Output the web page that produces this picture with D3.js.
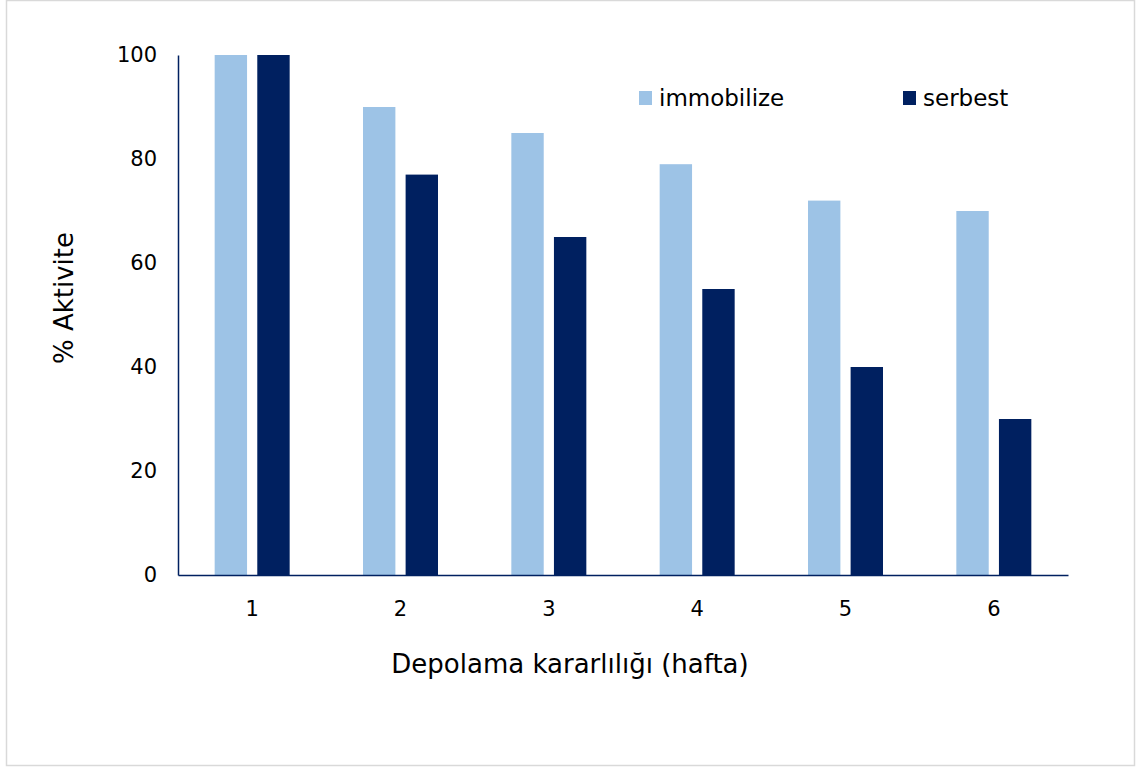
<!DOCTYPE html>
<html>
<head>
<meta charset="utf-8">
<script src="https://cdn.jsdelivr.net/npm/d3@7"></script>
<style>
  body { margin: 0; background: #fff; }
  text { font-family: "DejaVu Sans", Verdana, sans-serif; fill: #000; }
</style>
</head>
<body>
<div id="chart"></div>
<script>
// data
var weeks = ['1', '2', '3', '4', '5', '6']
var immobilize = [100, 90, 85, 79, 72, 70]
var serbest = [100, 77, 65, 55, 40, 30]
var yTicks = [0, 20, 40, 60, 80, 100]
var seriesNames = ['immobilize', 'serbest']

var colors = { immobilize: '#9dc3e6', serbest: '#002060' }

var margin = { top: 55, left: 178, right: 79, bottom: 194 }
var width = 1147 - margin.left - margin.right
var height = 769 - margin.top - margin.bottom

var svg = d3.select('#chart')
  .append('svg')
  .attr('width', 1147)
  .attr('height', 769)

// outer frame
svg.append('rect')
  .attr('x', 6.5)
  .attr('y', 0.5)
  .attr('width', 1128)
  .attr('height', 765)
  .attr('fill', 'none')
  .attr('stroke', '#d9d9d9')
  .attr('stroke-width', 1.5)

var g = svg.append('g')
  .attr('transform', 'translate(' + margin.left + ',' + margin.top + ')')

var xPositionScale = d3.scaleBand()
  .domain(weeks)
  .range([0, width])

var groupScale = d3.scaleBand()
  .domain(seriesNames)
  .range([xPositionScale.bandwidth() / 2 - 37.5, xPositionScale.bandwidth() / 2 + 37.5])
  .paddingInner(0.24)

var yPositionScale = d3.scaleLinear()
  .domain([0, 100])
  .range([height, 0])

var rows = weeks.map(function (w, i) {
  return { week: w, immobilize: immobilize[i], serbest: serbest[i] }
})

var groups = g.selectAll('.week')
  .data(rows)
  .enter()
  .append('g')
  .attr('class', 'week')
  .attr('transform', d => 'translate(' + xPositionScale(d.week) + ',0)')

groups.selectAll('rect')
  .data(d => seriesNames.map(k => ({ key: k, value: d[k] })))
  .enter()
  .append('rect')
  .attr('x', d => groupScale(d.key))
  .attr('width', groupScale.bandwidth())
  .attr('y', d => yPositionScale(d.value))
  .attr('height', d => height - yPositionScale(d.value))
  .attr('fill', d => colors[d.key])

// axes
var yAxis = d3.axisLeft(yPositionScale).tickValues(yTicks).tickSize(0).tickPadding(21)
var yG = g.append('g').attr('class', 'axis y-axis').call(yAxis)
yG.attr('font-size', 21).attr('font-family', null)
yG.select('.domain').attr('stroke', '#002060').attr('stroke-width', 1.5)

var xAxis = d3.axisBottom(xPositionScale).tickSize(0).tickPadding(26)
var xG = g.append('g')
  .attr('class', 'axis x-axis')
  .attr('transform', 'translate(0,' + height + ')')
  .call(xAxis)
xG.attr('font-size', 21).attr('font-family', null)
xG.select('.domain').attr('stroke', '#002060').attr('stroke-width', 1.5)

// titles
svg.append('text')
  .text('Depolama kararlılığı (hafta)')
  .attr('x', 570)
  .attr('y', 673)
  .attr('font-size', 26)
  .attr('text-anchor', 'middle')

svg.append('text')
  .text('% Aktivite')
  .attr('transform', 'translate(73,298) rotate(-90)')
  .attr('font-size', 26)
  .attr('text-anchor', 'middle')

// legend
var legendX = { immobilize: 639, serbest: 903 }
var legend = svg.selectAll('.legend')
  .data(seriesNames)
  .enter()
  .append('g')
  .attr('class', 'legend')
  .attr('transform', d => 'translate(' + legendX[d] + ',91)')

legend.append('rect')
  .attr('width', 13)
  .attr('height', 14)
  .attr('fill', d => colors[d])

legend.append('text')
  .text(d => d)
  .attr('x', 20)
  .attr('y', 15)
  .attr('font-size', 23)
</script>
</body>
</html>
